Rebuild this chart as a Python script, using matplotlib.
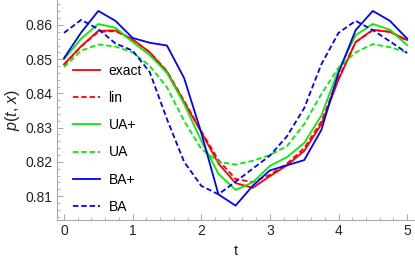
import matplotlib
matplotlib.use("Agg")
import matplotlib.pyplot as plt
from matplotlib.ticker import MultipleLocator

plt.rcParams['font.family'] = ['Liberation Sans', 'DejaVu Sans']
plt.rcParams['mathtext.fontset'] = 'custom'
plt.rcParams['mathtext.rm'] = 'Liberation Sans'
plt.rcParams['mathtext.it'] = 'Liberation Sans:italic'

t = [0, 0.25, 0.5, 0.75, 1, 1.25, 1.5, 1.75, 2, 2.25, 2.5,
     2.75, 3, 3.25, 3.5, 3.75, 4, 4.25, 4.5, 4.75, 5]

exact = [0.8485, 0.8538, 0.8583, 0.8584, 0.8558, 0.8520, 0.8463, 0.8375, 0.8287, 0.8195, 0.8138,
         0.8124, 0.8158, 0.8190, 0.8232, 0.8310, 0.8440, 0.8550, 0.8586, 0.8580, 0.8556]
lin = [0.8483, 0.8537, 0.8580, 0.8582, 0.8557, 0.8520, 0.8465, 0.8378, 0.8290, 0.8205, 0.8150,
       0.8141, 0.8162, 0.8195, 0.8240, 0.8318, 0.8445, 0.8550, 0.8585, 0.8580, 0.8554]
ua_plus = [0.8500, 0.8560, 0.8603, 0.8592, 0.8550, 0.8512, 0.8460, 0.8370, 0.8262, 0.8165, 0.8118,
           0.8140, 0.8188, 0.8214, 0.8255, 0.8335, 0.8468, 0.8570, 0.8603, 0.8586, 0.8541]
ua = [0.8477, 0.8525, 0.8543, 0.8537, 0.8520, 0.8480, 0.8418, 0.8320, 0.8238, 0.8200, 0.8192,
      0.8203, 0.8220, 0.8246, 0.8310, 0.8398, 0.8475, 0.8520, 0.8544, 0.8535, 0.8520]
ba_plus = [0.8503, 0.8578, 0.8641, 0.8612, 0.8562, 0.8548, 0.8540, 0.8445, 0.8285, 0.8105, 0.8072,
           0.8130, 0.8175, 0.8190, 0.8205, 0.8293, 0.8460, 0.8585, 0.8641, 0.8612, 0.8560]
ba = [0.8577, 0.8615, 0.8588, 0.8546, 0.8525, 0.8462, 0.8325, 0.8200, 0.8130, 0.8105, 0.8142,
      0.8180, 0.8218, 0.8275, 0.8357, 0.8485, 0.8577, 0.8612, 0.8585, 0.8552, 0.8518]

fig = plt.figure(figsize=(4.15, 2.65), dpi=100)
ax = fig.add_axes([57 / 415, 45 / 265, 357 / 415, 220 / 265])

dash = (0, (3, 1.6))
lw = 1.3
ax.plot(t, exact, color='#ff0000', lw=lw, label='exact')
ax.plot(t, lin, color='#ff0000', lw=lw, ls=dash, label='lin')
ax.plot(t, ua_plus, color='#00ee00', lw=lw, label='UA+')
ax.plot(t, ua, color='#00ee00', lw=lw, ls=dash, label='UA')
ax.plot(t, ba_plus, color='#0000ff', lw=lw, label='BA+')
ax.plot(t, ba, color='#0000ff', lw=lw, ls=dash, label='BA')

ax.set_xlim(-0.102, 5.1)
ax.set_ylim(0.8030, 0.8673)
ax.xaxis.set_major_locator(MultipleLocator(1))
ax.xaxis.set_minor_locator(MultipleLocator(0.2))
ax.yaxis.set_minor_locator(MultipleLocator(0.002))
ax.set_yticks([0.81, 0.82, 0.83, 0.84, 0.85, 0.86])
ax.set_yticklabels(['0.81', '0.82', '0.83', '0.84', '0.85', '0.86'])

for s in ['top', 'right']:
    ax.spines[s].set_visible(False)
for s in ['left', 'bottom']:
    ax.spines[s].set_color('#aaaaaa')
ax.tick_params(which='both', direction='in', color='#aaaaaa', labelsize=10, labelcolor='#222222')
ax.tick_params(which='major', length=4, pad=3)
ax.tick_params(which='minor', length=2)

ax.set_xlabel('t', fontsize=10.5, labelpad=4, color='#222222')
ax.set_ylabel(r'$p$(${t}$, ${x}$)', fontsize=11.5, labelpad=3, color='#222222')

ax.legend(loc='upper left', bbox_to_anchor=(0.045, 0.71), frameon=False, fontsize=10,
          handlelength=1.95, handletextpad=0.6, labelspacing=0.95, borderpad=0, borderaxespad=0)

fig.savefig('out.png', dpi=100)
